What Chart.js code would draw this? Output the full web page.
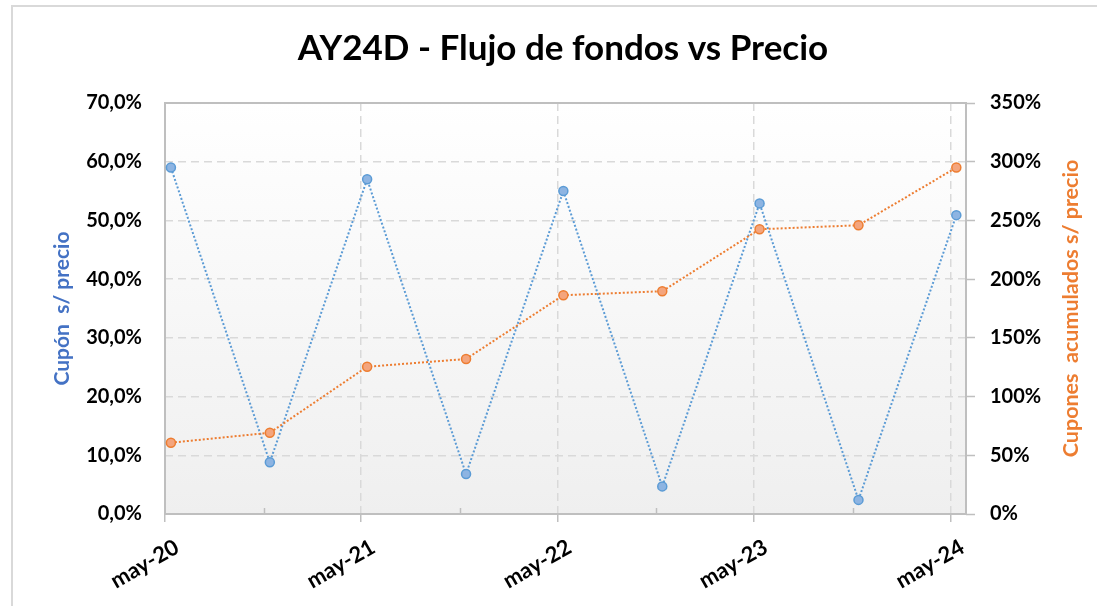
<!DOCTYPE html>
<html>
<head>
<meta charset="utf-8">
<script src="https://cdn.jsdelivr.net/npm/chart.js@4.4.1/dist/chart.umd.min.js"></script>
<style>
  html, body { margin: 0; padding: 0; background: #ffffff; overflow: hidden; }
  #frame { position: absolute; left: 11px; top: 5px; width: 1300px; height: 800px; border: 2px solid #d9d9d9; box-sizing: border-box; }
  #c { position: absolute; left: 0; top: 0; }
</style>
</head>
<body>
<div id="frame"></div>
<canvas id="c" width="1097" height="606"></canvas>
<script>
// ---- data ----
const chartTitle = 'AY24D - Flujo de fondos vs Precio';
const leftAxisTitle = 'Cupón  s/ precio';
const rightAxisTitle = 'Cupones  acumulados s/ precio';
const paymentDates = ['2020-05-28','2020-11-28','2021-05-28','2021-11-28','2022-05-28','2022-11-28','2023-05-28','2023-11-28','2024-05-28'];
const cuponSobrePrecio = [59.0, 8.8, 57.0, 6.8, 55.0, 4.7, 52.9, 2.4, 50.9];
const cuponesAcumulados = [60.7, 69.2, 125.4, 132.0, 186.3, 189.7, 242.5, 245.9, 295.0];
const xMajorTickDates = ['2020-05-17','2021-05-17','2022-05-17','2023-05-17','2024-05-17'];
const xMajorTickLabels = ['may-20','may-21','may-22','may-23','may-24'];
const xMinorTickDates = ['2020-11-17','2021-11-17','2022-11-17','2023-11-17'];
const xAxisStart = '2020-05-17';
const xAxisEnd = '2024-06-15';

const DAY = 86400000;
const dayOf = d => (Date.parse(d) - Date.parse(xAxisStart)) / DAY;
const majorVals = xMajorTickDates.map(dayOf);
const minorVals = xMinorTickDates.map(dayOf);
const isMajor = v => majorVals.some(m => Math.abs(m - v) < 0.5);

const FONT = 'Lato, "Open Sans", sans-serif';
const BLUE = '#5B9BD5', ORANGE = '#ED7D31';

const plotDecor = {
  id: 'plotDecor',
  beforeDraw(chart) {
    const {ctx, chartArea: a} = chart;
    const g = ctx.createLinearGradient(0, a.top, 0, a.bottom);
    g.addColorStop(0, '#ffffff');
    g.addColorStop(1, '#efefef');
    ctx.save();
    ctx.fillStyle = g;
    ctx.fillRect(a.left, a.top, a.right - a.left, a.bottom - a.top);
    ctx.restore();
  },
  beforeDatasetsDraw(chart) {
    const {ctx, chartArea: a} = chart;
    const xs = chart.scales.x;
    ctx.save();
    ctx.strokeStyle = '#bfbfbf';
    ctx.lineWidth = 2;
    ctx.strokeRect(a.left, a.top, a.right - a.left, a.bottom - a.top);
    ctx.lineWidth = 1.5;
    ctx.beginPath();
    minorVals.forEach(v => {
      const px = Math.round(xs.getPixelForValue(v)) + 0.5;
      ctx.moveTo(px, a.bottom);
      ctx.lineTo(px, a.bottom - 6);
    });
    ctx.stroke();
    ctx.restore();
  },
  afterDraw(chart) {
    const {ctx, chartArea: a} = chart;
    const cy = (a.top + a.bottom) / 2;
    ctx.save();
    ctx.font = 'bold 21px ' + FONT;
    ctx.textAlign = 'center';
    ctx.textBaseline = 'middle';
    ctx.translate(a.left - 103, cy);
    ctx.rotate(-Math.PI / 2);
    ctx.fillStyle = '#4472C4';
    ctx.fillText(leftAxisTitle, 0, 0);
    ctx.restore();
    ctx.save();
    ctx.font = 'bold 21.5px ' + FONT;
    ctx.textAlign = 'center';
    ctx.textBaseline = 'middle';
    ctx.translate(a.right + 105, cy);
    ctx.rotate(-Math.PI / 2);
    ctx.fillStyle = ORANGE;
    ctx.fillText(rightAxisTitle, 0, 0);
    ctx.restore();
  }
};

new Chart(document.getElementById('c'), {
  type: 'line',
  data: {
    datasets: [
      {
        label: 'Cupones acumulados s/ precio',
        data: paymentDates.map((d, i) => ({x: dayOf(d), y: cuponesAcumulados[i]})),
        yAxisID: 'y1',
        borderColor: ORANGE,
        borderWidth: 2,
        borderDash: [2, 2],
        backgroundColor: '#F4A57D',
        pointBackgroundColor: '#F4A57D',
        pointBorderColor: ORANGE,
        pointBorderWidth: 1.5,
        pointRadius: 4.5,
        fill: false,
        tension: 0,
        order: 1
      },
      {
        label: 'Cupón s/ precio',
        data: paymentDates.map((d, i) => ({x: dayOf(d), y: cuponSobrePrecio[i]})),
        yAxisID: 'y',
        borderColor: BLUE,
        borderWidth: 2,
        borderDash: [2, 2],
        backgroundColor: '#8DB4E2',
        pointBackgroundColor: '#8DB4E2',
        pointBorderColor: BLUE,
        pointBorderWidth: 1.5,
        pointRadius: 4.5,
        fill: false,
        tension: 0,
        order: 2
      }
    ]
  },
  options: {
    responsive: false,
    animation: false,
    devicePixelRatio: 1,
    layout: { padding: { left: 40, right: 11, top: 0, bottom: 0 } },
    plugins: {
      legend: { display: false },
      tooltip: { enabled: false },
      title: {
        display: true,
        text: chartTitle,
        color: '#000000',
        font: { family: FONT, size: 35, weight: 'bold' },
        padding: { top: 28, bottom: 33 }
      }
    },
    scales: {
      x: {
        type: 'linear',
        position: 'bottom',
        min: 0,
        max: dayOf(xAxisEnd),
        afterBuildTicks(scale) {
          scale.ticks = majorVals.concat(minorVals).sort((a, b) => a - b).map(v => ({value: v}));
        },
        afterFit(scale) { scale.height = 92; },
        grid: {
          display: true,
          drawOnChartArea: true,
          color: ctx => (ctx.tick && isMajor(ctx.tick.value)) ? '#d9d9d9' : 'rgba(0,0,0,0)',
          lineWidth: 1.5,
          tickColor: ctx => (ctx.tick && isMajor(ctx.tick.value)) ? '#bfbfbf' : 'rgba(0,0,0,0)',
          tickLength: 8,
          tickBorderDash: [],
          tickWidth: 1.5
        },
        border: { display: false, dash: [8, 5] },
        ticks: {
          autoSkip: false,
          minRotation: 30,
          maxRotation: 30,
          labelOffset: 12,
          padding: 12,
          color: '#000000',
          font: { family: FONT, size: 22, weight: 'bold' },
          callback(value) {
            const i = majorVals.findIndex(m => Math.abs(m - value) < 0.5);
            return i >= 0 ? xMajorTickLabels[i] : '';
          }
        }
      },
      y: {
        position: 'left',
        min: 0,
        max: 70,
        afterFit(scale) { scale.width = 125; },
        grid: {
          color: '#d9d9d9',
          lineWidth: 1.5,
          drawTicks: false
        },
        border: { display: false, dash: [8, 5] },
        ticks: {
          stepSize: 10,
          padding: 23,
          color: '#000000',
          font: { family: FONT, size: 20, weight: 'bold' },
          callback: v => v.toFixed(1).replace('.', ',') + '%'
        }
      },
      y1: {
        position: 'right',
        min: 0,
        max: 350,
        afterFit(scale) { scale.width = 120; },
        grid: {
          drawOnChartArea: false,
          tickColor: '#bfbfbf',
          tickLength: 9,
          tickWidth: 1.5
        },
        border: { display: false },
        ticks: {
          stepSize: 50,
          padding: 15,
          color: '#000000',
          font: { family: FONT, size: 20, weight: 'bold' },
          callback: v => v + '%'
        }
      }
    }
  },
  plugins: [plotDecor]
});
</script>
</body>
</html>
